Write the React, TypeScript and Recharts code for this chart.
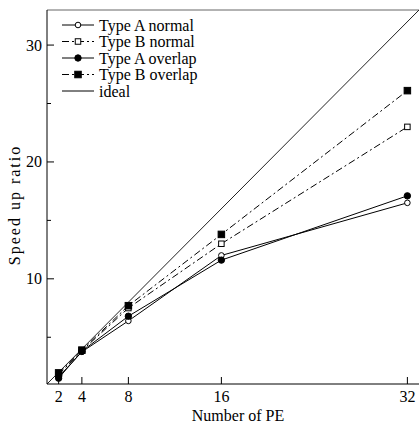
import { LineChart, Line, XAxis, YAxis, Legend, ReferenceLine } from "recharts";

const FONT = "Liberation Serif, Tinos, Times New Roman, DejaVu Serif, serif";

const peCounts = [2, 4, 8, 16, 32];
const typeANormal = [1.6, 3.75, 6.4, 12.0, 16.5];
const typeBNormal = [1.8, 3.85, 7.5, 13.0, 23.0];
const typeAOverlap = [1.5, 3.8, 6.8, 11.6, 17.1];
const typeBOverlap = [1.95, 3.9, 7.7, 13.8, 26.1];
const idealPoints = [1, 33];

const xTicks = [2, 4, 8, 16, 32];
const yTicks = [5, 10, 15, 20, 25, 30];

const data = peCounts.map((pe, i) => ({
    pe,
    aNormal: typeANormal[i],
    bNormal: typeBNormal[i],
    aOverlap: typeAOverlap[i],
    bOverlap: typeBOverlap[i],
}));
const idealData = idealPoints.map((v) => ({ pe: v, ideal: v }));

const DASH = "7 3 2 3";

const legendItems = [
    { name: "Type A normal", dash: undefined, marker: "circle", fill: "#fff" },
    { name: "Type B normal", dash: DASH, marker: "square", fill: "#fff" },
    { name: "Type A overlap", dash: undefined, marker: "circle", fill: "#000" },
    { name: "Type B overlap", dash: DASH, marker: "square", fill: "#000" },
    { name: "ideal", dash: undefined, marker: "none", fill: "#000" },
];

function marker(kind: string, fill: string, cx: number, cy: number, key?: any) {
    if (kind === "circle") {
        const r = fill === "#000" ? 3.2 : 2.8;
        return <circle key={key} cx={cx} cy={cy} r={r} fill={fill} stroke="#000" strokeWidth={1} />;
    }
    if (kind === "square") {
        const s = fill === "#000" ? 6.5 : 5.5;
        return <rect key={key} x={cx - s / 2} y={cy - s / 2} width={s} height={s} fill={fill} stroke="#000" strokeWidth={1} />;
    }
    return null;
}

const dotOf = (kind: string, fill: string) => (props: any) => {
    const { cx, cy, index } = props;
    if (cx == null || cy == null) return <g key={index} />;
    return marker(kind, fill, cx, cy, index);
};

function LegendBox() {
    return (
        <svg width={160} height={86} style={{ display: "block" }}>
            {legendItems.map((it, i) => {
                const y = 8 + i * 16.5;
                return (
                    <g key={it.name}>
                        <line x1={0} x2={32} y1={y} y2={y} stroke="#000" strokeDasharray={it.dash} />
                        {marker(it.marker, it.fill, 16, y)}
                        <text x={37} y={y + 5.5} fontSize={16} fontFamily={FONT} fill="#000">
                            {it.name}
                        </text>
                    </g>
                );
            })}
        </svg>
    );
}

const XTick = (props: any) => {
    const { x, y, payload } = props;
    return (
        <g>
            <line x1={x} x2={x} y1={y} y2={y - 7} stroke="#000" />
            <text x={x} y={y + 18} textAnchor="middle" fontSize={16} fontFamily={FONT} fill="#000">
                {payload.value}
            </text>
        </g>
    );
};

const YTick = (props: any) => {
    const { x, y, payload } = props;
    const major = payload.value % 10 === 0;
    return (
        <g>
            <line x1={x} x2={x + (major ? 7 : 4)} y1={y} y2={y} stroke="#000" />
            {major && (
                <text x={x - 5} y={y + 5.5} textAnchor="end" fontSize={16} fontFamily={FONT} fill="#000">
                    {payload.value}
                </text>
            )}
        </g>
    );
};

const XTitle = (props: any) => {
    const vb = props.viewBox;
    return (
        <text x={vb.x + vb.width / 2 + 5} y={vb.y + 37} textAnchor="middle" fontSize={16} fontFamily={FONT} fill="#000">
            Number of PE
        </text>
    );
};

const YTitle = (props: any) => {
    const vb = props.viewBox;
    const cx = 19.5;
    const cy = vb.y + vb.height / 2 + 8;
    return (
        <text x={cx} y={cy} transform={`rotate(-90 ${cx} ${cy})`} textAnchor="middle" fontSize={16} fontFamily={FONT} fill="#000" letterSpacing={2}>
            Speed up ratio
        </text>
    );
};

export default function App() {
    return (
        <div style={{ width: 419, height: 426, background: "#fff", fontFamily: FONT }}>
            <style>{"body{margin:0}"}</style>
            <LineChart width={419} height={426} data={data} margin={{ top: 10, right: 0, left: 0, bottom: 0 }}>
                <XAxis
                    dataKey="pe"
                    type="number"
                    domain={[1, 33]}
                    allowDataOverflow
                    ticks={xTicks}
                    interval={0}
                    height={42}
                    tickSize={0}
                    tickMargin={0}
                    tickLine={false}
                    tick={<XTick />}
                    axisLine={{ stroke: "#000" }}
                    label={<XTitle />}
                />
                <YAxis
                    type="number"
                    domain={[1, 33]}
                    allowDataOverflow
                    ticks={yTicks}
                    interval={0}
                    width={47}
                    tickSize={0}
                    tickMargin={0}
                    tickLine={false}
                    tick={<YTick />}
                    axisLine={{ stroke: "#000" }}
                    label={<YTitle />}
                />
                <ReferenceLine y={33} stroke="#666" strokeWidth={1} />
                <Legend
                    layout="vertical"
                    align="center"
                    verticalAlign="middle"
                    wrapperStyle={{ top: 17, left: 62, width: 160, height: 86 }}
                    content={() => <LegendBox />}
                />
                <Line data={idealData} dataKey="ideal" stroke="#222" strokeWidth={1} dot={false} isAnimationActive={false} />
                <Line dataKey="aNormal" stroke="#000" strokeWidth={1} dot={dotOf("circle", "#fff")} isAnimationActive={false} />
                <Line dataKey="bNormal" stroke="#000" strokeWidth={1} strokeDasharray={DASH} dot={dotOf("square", "#fff")} isAnimationActive={false} />
                <Line dataKey="aOverlap" stroke="#000" strokeWidth={1} dot={dotOf("circle", "#000")} isAnimationActive={false} />
                <Line dataKey="bOverlap" stroke="#000" strokeWidth={1} strokeDasharray={DASH} dot={dotOf("square", "#000")} isAnimationActive={false} />
            </LineChart>
        </div>
    );
}
